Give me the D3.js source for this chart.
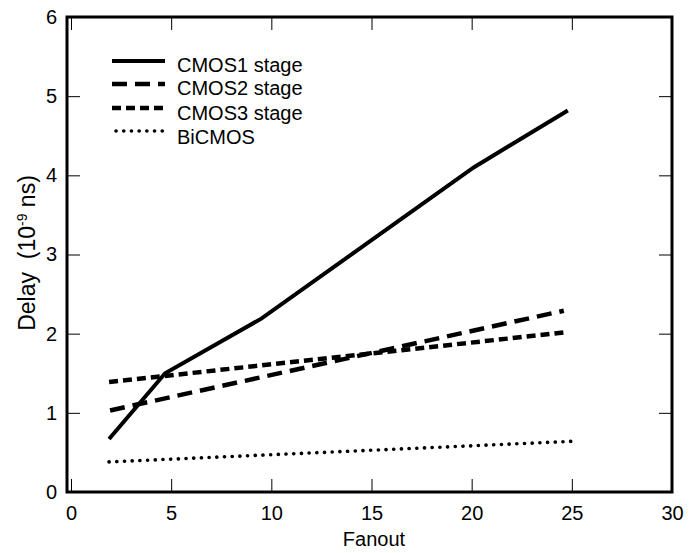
<!DOCTYPE html>
<html>
<head>
<meta charset="utf-8">
<script src="https://cdn.jsdelivr.net/npm/d3@7"></script>
<style>
  body { margin: 0; background: #fff; }
  svg { font-family: "Liberation Sans", Arial, sans-serif; }
</style>
</head>
<body>
<div id="chart"></div>
<script>
'use strict';

// DATA
var seriesNames = ['CMOS1 stage', 'CMOS2 stage', 'CMOS3 stage', 'BiCMOS'];
var cmos1 = [[1.9, 0.67], [4.7, 1.5], [9.5, 2.19], [20.1, 4.1], [24.8, 4.82]];
var cmos2 = [[1.95, 1.03], [24.6, 2.29]];
var cmos3 = [[1.9, 1.39], [24.8, 2.02]];
var bicmos = [[1.9, 0.38], [25.0, 0.64]];
var xTicks = [0, 5, 10, 15, 20, 25, 30];
var yTicks = [0, 1, 2, 3, 4, 5, 6];

var styles = [
    { width: 4, dash: null, cap: 'butt' },
    { width: 4.5, dash: '15 8', cap: 'butt' },
    { width: 4.5, dash: '9 5', cap: 'butt' },
    { width: 3.6, dash: '0.1 7.6', cap: 'round' }
];
var allSeries = [cmos1, cmos2, cmos3, bicmos];

var stage = { width: 692, height: 553, left: 67, right: 672, top: 17, bottom: 492 };

var svg = d3.select('#chart')
    .append('svg')
    .attr('width', stage.width)
    .attr('height', stage.height);

var x = d3.scaleLinear().domain([0, 30]).range([71, stage.right]);
var y = d3.scaleLinear().domain([0, 6]).range([stage.bottom, stage.top]);

var tickLen = 13;

// AXES (ticks inward on all four sides)
svg.append('g')
    .attr('transform', 'translate(0,' + stage.bottom + ')')
    .call(d3.axisBottom(x).tickValues(xTicks).tickSize(-tickLen).tickPadding(14).tickFormat(d3.format('d')))
    .call(function(g) { g.select('.domain').remove(); });

svg.append('g')
    .attr('transform', 'translate(0,' + stage.top + ')')
    .call(d3.axisTop(x).tickValues(xTicks).tickSize(-tickLen).tickFormat(''))
    .call(function(g) { g.select('.domain').remove(); });

svg.append('g')
    .attr('transform', 'translate(' + stage.left + ',0)')
    .call(d3.axisLeft(y).tickValues(yTicks).tickSize(-tickLen).tickPadding(10).tickFormat(d3.format('d')))
    .call(function(g) { g.select('.domain').remove(); });

svg.append('g')
    .attr('transform', 'translate(' + stage.right + ',0)')
    .call(d3.axisRight(y).tickValues(yTicks).tickSize(-tickLen).tickFormat(''))
    .call(function(g) { g.select('.domain').remove(); });

svg.selectAll('.tick line').attr('stroke', '#000').attr('stroke-width', 1);
svg.selectAll('.tick text').attr('font-size', 20).attr('fill', '#000')
    .attr('font-family', '"Liberation Sans", Arial, sans-serif');

// FRAME
svg.append('rect')
    .attr('x', stage.left)
    .attr('y', stage.top)
    .attr('width', stage.right - stage.left)
    .attr('height', stage.bottom - stage.top)
    .attr('fill', 'none')
    .attr('stroke', '#000')
    .attr('stroke-width', 3);

// LINES
var line = d3.line()
    .x(function(d) { return x(d[0]); })
    .y(function(d) { return y(d[1]); });

svg.append('g')
    .selectAll('path').data(allSeries).enter()
    .append('path')
    .attr('d', line)
    .attr('fill', 'none')
    .attr('stroke', '#000')
    .attr('stroke-width', function(d, i) { return styles[i].width; })
    .attr('stroke-dasharray', function(d, i) { return styles[i].dash; })
    .attr('stroke-linecap', function(d, i) { return styles[i].cap; });

// LEGEND
var legendRows = [61, 84, 108, 131];
var legend = svg.append('g')
    .selectAll('g').data(seriesNames).enter()
    .append('g')
    .attr('transform', function(d, i) { return 'translate(112,' + legendRows[i] + ')'; });

legend.append('line')
    .attr('x1', function(d, i) { return i === 3 ? 4 : 0; })
    .attr('x2', 53)
    .attr('stroke', '#000')
    .attr('stroke-width', function(d, i) { return styles[i].width; })
    .attr('stroke-dasharray', function(d, i) { return styles[i].dash; })
    .attr('stroke-linecap', function(d, i) { return styles[i].cap; });

legend.append('text')
    .attr('x', 65)
    .attr('y', function(d, i) { return 10.5 + i * 0.8; })
    .attr('font-size', 20)
    .text(function(d) { return d; });

// AXIS TITLES
svg.append('text')
    .attr('x', 374)
    .attr('y', 546)
    .attr('text-anchor', 'middle')
    .attr('font-size', 20)
    .text('Fanout');

var yTitle = svg.append('text')
    .attr('transform', 'translate(35,253) rotate(-90)')
    .attr('text-anchor', 'middle')
    .attr('font-size', 23)
    .attr('xml:space', 'preserve');
yTitle.append('tspan').text('Delay  (10');
yTitle.append('tspan').attr('font-size', 14).attr('dy', -8).text('-9');
yTitle.append('tspan').attr('dy', 8).text(' ns)');
</script>
</body>
</html>
